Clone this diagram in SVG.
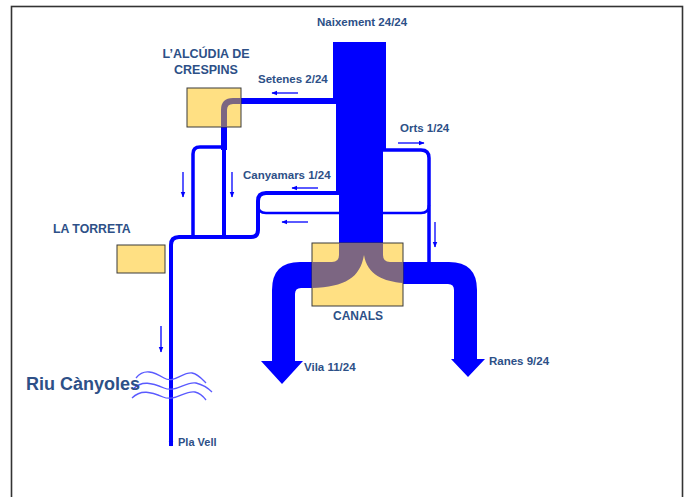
<svg xmlns="http://www.w3.org/2000/svg" xmlns:xlink="http://www.w3.org/1999/xlink" width="684" height="497" viewBox="0 0 684 497">
<style>
.lbl{font-family:"Liberation Sans",Arial,sans-serif;font-weight:bold;fill:#2D5087;font-size:11.5px}
.big{font-size:12.5px}
.box{fill:#FFE083;stroke:#3A3A3A;stroke-width:1}
.pipe{fill:none;stroke:#0000FF;stroke-linecap:butt}
.arr{fill:none;stroke:#0000FF;stroke-width:1.3}
.wave{fill:none;stroke:#5A5AFF;stroke-width:1.3}
</style>
<defs>
<marker id="ah" viewBox="0 0 10 10" refX="9" refY="5" markerWidth="6" markerHeight="6" markerUnits="userSpaceOnUse" orient="auto">
<path d="M0,1 L10,5 L0,9 Z" fill="#0000FF"/>
</marker>
<clipPath id="cpA"><rect x="187" y="88" width="54" height="39"/></clipPath>
<clipPath id="cpC"><rect x="312" y="243" width="91" height="63"/></clipPath>
<path id="setenes" d="M336,101 L233,101 Q224,101 224,110 L224,150"/>
<path id="split" d="M339,240 L383,240 L383,255 Q383,262 390,262 L404,262 L404,283 C385,282 367,275 364,255 C360,278 345,287 311,288 L311,262 L332,262 Q339,262 339,255 Z"/>
</defs>
<rect x="11.5" y="6.5" width="671" height="500" fill="#FFFFFF" stroke="#333333" stroke-width="1.6"/>
<g id="connectors">
<path class="pipe" stroke-width="2.5" d="M258,205 Q258,213 266,213 L421,213 Q429,213 429,205"/>
<path class="pipe" stroke-width="3.5" d="M383,150 L421,150 Q429,150 429,158 L429,264"/>
<path class="pipe" stroke-width="4" d="M339,193 L266,193 Q258,193 258,201 L258,230 Q258,237 251,237 L179,237 Q171,237 171,245 L171,446" marker-end="url(#ah)"/>
<path class="pipe" stroke-width="4" d="M224,140 L224,237"/>
<path class="pipe" stroke-width="3.5" d="M224,147 L200,147 Q193,147 193,154 L193,237"/>
<use xlink:href="#setenes" class="pipe" stroke-width="6"/>
<path fill="#0000FF" d="M333,42 L386,42 L386,150 L383,150 L383,245 L339,245 L339,193 L336,193 L336,104 L333,104 Z"/>
<use xlink:href="#split" fill="#0000FF"/>
<path id="vila" fill="#0000FF" d="M312,262 L300,262 Q272,262 272,290 L272,361 L261,361 L282,384 L303,361 L295,361 L295,294 Q295,288 301,288 L312,288 Z"/>
<path id="ranes" fill="#0000FF" d="M403,262 L449,262 Q477,262 477,290 L477,359 L485,359 L468,377 L451,359 L454,359 L454,290 Q454,284 448,284 L403,284 Z"/>
<line class="arr" x1="298" y1="93" x2="272" y2="93" marker-end="url(#ah)"/>
<line class="arr" x1="318" y1="188" x2="292" y2="188" marker-end="url(#ah)"/>
<line class="arr" x1="308" y1="222" x2="282" y2="222" marker-end="url(#ah)"/>
<line class="arr" x1="398" y1="143" x2="424" y2="143" marker-end="url(#ah)"/>
<line class="arr" x1="183" y1="172" x2="183" y2="197" marker-end="url(#ah)"/>
<line class="arr" x1="232" y1="172" x2="232" y2="197" marker-end="url(#ah)"/>
<line class="arr" x1="435" y1="222" x2="435" y2="247" marker-end="url(#ah)"/>
<line class="arr" x1="161" y1="326" x2="161" y2="352" marker-end="url(#ah)"/>
</g>
<g id="alcudia">
<rect class="box" x="187" y="88" width="54" height="39"/>
<use xlink:href="#setenes" class="pipe" stroke-width="6" style="stroke:#7C6682" clip-path="url(#cpA)"/>
<text class="lbl big" x="206" y="58" text-anchor="middle">L’ALCÚDIA DE</text>
<text class="lbl big" x="206" y="74" text-anchor="middle">CRESPINS</text>
</g>
<g id="canals">
<rect class="box" x="312" y="243" width="91" height="63"/>
<use xlink:href="#split" fill="#7C6682" clip-path="url(#cpC)"/>
<text class="lbl" style="font-size:12px" x="333" y="320">CANALS</text>
</g>
<g id="torreta">
<rect class="box" x="117" y="245" width="48" height="28"/>
<text class="lbl" style="font-size:12.3px" x="53" y="233">LA TORRETA</text>
</g>
<g id="labels">
<text class="lbl" x="317" y="26">Naixement 24/24</text>
<text class="lbl" x="258" y="83">Setenes 2/24</text>
<text class="lbl" x="400" y="132">Orts 1/24</text>
<text class="lbl" x="243" y="179">Canyamars 1/24</text>
<text class="lbl" x="304" y="371">Vila 11/24</text>
<text class="lbl" x="489" y="365">Ranes 9/24</text>
<text class="lbl" style="font-size:11px" x="178" y="446">Pla Vell</text>
</g>
<g id="riu">
<path class="wave" d="M136,378 C144,368 154,372 164,378 C174,384 182,372 192,373 C198,374 202,379 206,383"/>
<path class="wave" d="M133,389 C142,380 152,383 164,388 C176,393 186,381 196,383 C204,385 209,389 212,392"/>
<path class="wave" d="M132,398 C141,389 151,392 163,397 C175,402 185,390 195,392 C200,393 203,396 206,400"/>
<text class="lbl" style="font-size:18px" x="26" y="390">Riu Cànyoles</text>
</g>
</svg>
